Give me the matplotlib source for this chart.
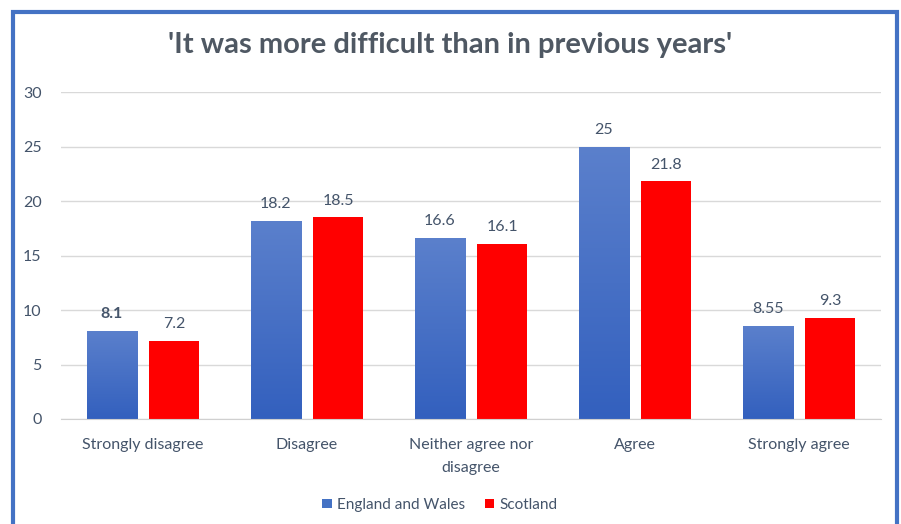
import numpy as np
import matplotlib.pyplot as plt
from matplotlib.patches import Rectangle
from matplotlib.colors import LinearSegmentedColormap

categories = ['Strongly disagree', 'Disagree', 'Neither agree nor\ndisagree', 'Agree', 'Strongly agree']
england_wales = [8.1, 18.2, 16.6, 25, 8.55]
scotland = [7.2, 18.5, 16.1, 21.8, 9.3]
ew_labels = ['8.1', '18.2', '16.6', '25', '8.55']
sc_labels = ['7.2', '18.5', '16.1', '21.8', '9.3']

plt.rcParams['font.family'] = ['Lato', 'DejaVu Sans']
text_col = '#44546A'

fig = plt.figure(figsize=(9.01, 5.24), dpi=100)
ax = fig.add_axes([61 / 901, 1 - 419 / 524, 820 / 901, (419 - 92) / 524])

x = np.arange(len(categories))
w = 0.305
off = 0.19

bars_ew = ax.bar(x - off, england_wales, w, color='#4472C4', label='England and Wales', zorder=2)
bars_sc = ax.bar(x + off, scotland, w, color='#FF0000', label='Scotland', zorder=2)

# blue bars with vertical gradient
cmap = LinearSegmentedColormap.from_list('bl', ['#3360BE', '#5B80CC'])
grad = np.linspace(0, 1, 256).reshape(-1, 1)
for b in bars_ew:
    bx, by = b.get_x(), b.get_y()
    bw, bh = b.get_width(), b.get_height()
    im = ax.imshow(grad, cmap=cmap, aspect='auto', origin='lower',
                   extent=[bx, bx + bw, by, by + bh], zorder=2.5)
    im.set_clip_path(b)

for i, b in enumerate(bars_ew):
    ax.text(b.get_x() + b.get_width() / 2, b.get_height() + 0.9, ew_labels[i],
            ha='center', va='bottom', fontsize=11.5, color=text_col,
            fontweight='bold' if i == 0 else 'normal')
for i, b in enumerate(bars_sc):
    ax.text(b.get_x() + b.get_width() / 2, b.get_height() + 0.9, sc_labels[i],
            ha='center', va='bottom', fontsize=11.5, color=text_col)

ax.set_xlim(-0.5, len(categories) - 0.5)
ax.set_ylim(0, 30)
ax.set_yticks(range(0, 31, 5))
ax.set_xticks(x)
ax.set_xticklabels(categories, fontsize=11.5, color=text_col, linespacing=1.75)
ax.tick_params(axis='y', labelsize=11.5, labelcolor=text_col, length=0, pad=14)
ax.tick_params(axis='x', length=0, pad=14)
ax.grid(axis='y', color='#D9D9D9', linewidth=1, zorder=0)
for s in ['top', 'right', 'left']:
    ax.spines[s].set_visible(False)
ax.spines['bottom'].set_color('#D0D0D0')

fig.text(0.5, 1 - 45 / 524, "'It was more difficult than in previous years'",
         ha='center', va='center', fontsize=21, fontweight='bold', color='#4F5863')

fig.legend(handles=[bars_ew, bars_sc], loc='center', bbox_to_anchor=(440 / 901, 1 - 505 / 524),
           ncol=2, frameon=False, fontsize=11, handlelength=0.6, handleheight=0.6,
           handletextpad=0.35, columnspacing=1.3, labelcolor=text_col)

# blue frame around the chart
fig.patches.append(Rectangle((13 / 901, -0.05), (897 - 13) / 901, 1.05 - 12 / 524,
                             transform=fig.transFigure, fill=False,
                             edgecolor='#4472C4', linewidth=3))

fig.savefig('out.png', dpi=100)
